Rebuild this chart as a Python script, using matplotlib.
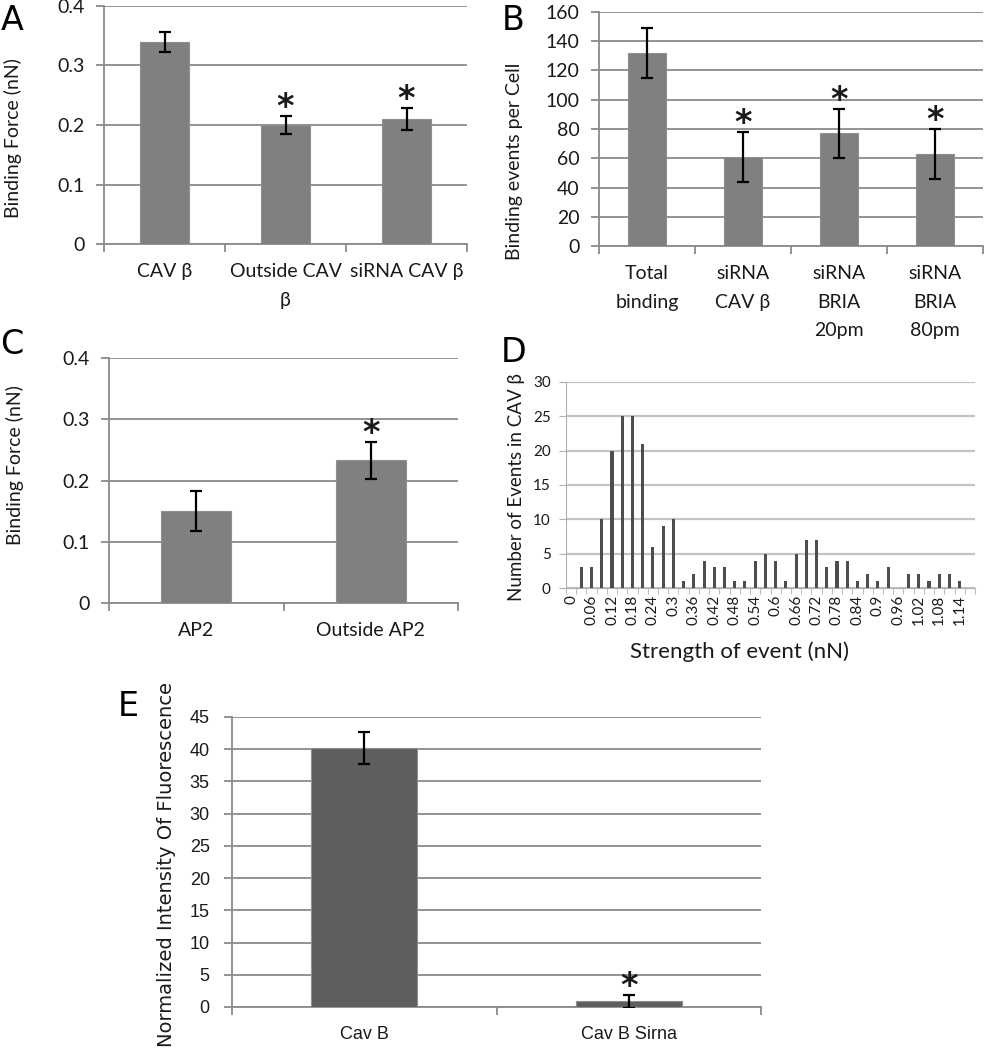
import matplotlib
matplotlib.use('Agg')
import matplotlib.pyplot as plt
import numpy as np

plt.rcParams['font.family'] = ['Lato', 'DejaVu Sans']

# Panel A
a_names = ['CAV β', 'Outside CAV\nβ', 'siRNA CAV β']
a_vals = [0.34, 0.20, 0.21]
a_err = [0.017, 0.015, 0.019]
a_star = [False, True, True]

# Panel B
b_names = ['Total\nbinding', 'siRNA\nCAV β', 'siRNA\nBRIA\n20pm', 'siRNA\nBRIA\n80pm']
b_vals = [132, 61, 77, 63]
b_err = [17, 17, 17, 17]
b_star = [False, True, True, True]

# Panel C
c_names = ['AP2', 'Outside AP2']
c_vals = [0.15, 0.233]
c_err = [0.033, 0.03]
c_star = [False, True]

# Panel D - histogram of event strengths
d_bins = ['0', '0.03', '0.06', '0.09', '0.12', '0.15', '0.18', '0.21', '0.24', '0.27',
          '0.3', '0.33', '0.36', '0.39', '0.42', '0.45', '0.48', '0.51', '0.54', '0.57',
          '0.6', '0.63', '0.66', '0.69', '0.72', '0.75', '0.78', '0.81', '0.84', '0.87',
          '0.9', '0.93', '0.96', '0.99', '1.02', '1.05', '1.08', '1.11', '1.14', '1.17']
d_counts = [0, 3, 3, 10, 20, 25, 25, 21, 6, 9,
            10, 1, 2, 4, 3, 3, 1, 1, 4, 5,
            4, 1, 5, 7, 7, 3, 4, 4, 1, 2,
            1, 3, 0, 2, 2, 1, 2, 2, 1, 0]

# Panel E
e_names = ['Cav B', 'Cav B Sirna']
e_vals = [40.2, 0.9]
e_err = [2.5, 1.0]
e_star = [False, True]

GRID = '#8a8a8a'
TXT = '#1a1a1a'

fig = plt.figure(figsize=(9.84, 10.5), dpi=100)


def bar_panel(rect, names, vals, err, star, ylim, yticks, ylabel, lab_xy,
              color='#808080', fs=14, tickfont=None, ylabfs=14, yfmt=None,
              labfont=None, xpad=14, ypad=8, lsp=1.8):
    ax = fig.add_axes(rect)
    x = np.arange(len(names))
    ax.bar(x, vals, 0.4, color=color, edgecolor='#8f8f8f', linewidth=0.8, zorder=3)
    ax.errorbar(x, vals, yerr=err, fmt='none', ecolor='black', elinewidth=1.6,
                capsize=4, capthick=1.6, zorder=4)
    for i in range(len(names)):
        if star[i]:
            ax.annotate('*', (x[i], vals[i] + err[i]), xytext=(0, -6),
                        textcoords='offset points', ha='center', va='bottom',
                        fontsize=24, fontweight='bold', color=TXT,
                        family=['DejaVu Sans'])
    ax.set_xlim(-0.5, len(names) - 0.5)
    ax.set_ylim(*ylim)
    ax.set_yticks(yticks)
    if yfmt:
        ax.set_yticklabels([yfmt(v) for v in yticks])
    ax.grid(axis='y', color=GRID, linewidth=1.3, zorder=0)
    ax.set_axisbelow(True)
    for s in ['top', 'right']:
        ax.spines[s].set_visible(False)
    ax.spines['left'].set_color(GRID)
    ax.spines['bottom'].set_color(GRID)
    ax.spines['left'].set_linewidth(1.3)
    ax.spines['bottom'].set_linewidth(1.3)
    ax.set_xticks(x, names, fontsize=fs, color=TXT, linespacing=lsp, va='center')
    ax.tick_params(axis='x', which='major', length=0, pad=xpad)
    ax.set_xticks(np.arange(len(names) + 1) - 0.5, minor=True)
    ax.tick_params(axis='x', which='minor', length=6, color=GRID, width=1.3)
    ax.tick_params(axis='y', length=6, color=GRID, width=1.3, labelsize=fs,
                   labelcolor=TXT, pad=ypad)
    for t in ax.get_xticklabels():
        t.set_verticalalignment('top')
    if tickfont:
        for t in ax.get_xticklabels() + ax.get_yticklabels():
            t.set_family(tickfont)
    ax.set_ylabel(ylabel, fontsize=ylabfs, color=TXT)
    ax.yaxis.label.set_va('center')
    if labfont:
        ax.yaxis.label.set_family(labfont)
    ax.yaxis.set_label_coords(*lab_xy)
    return ax


def fmt1(v):
    return '0' if v == 0 else ('%.1f' % v)


bar_panel([0.1057, 0.7676, 0.3689, 0.2267], a_names, a_vals, a_err, a_star,
          (0, 0.4), [0, 0.1, 0.2, 0.3, 0.4], 'Binding Force (nN)', (-0.25, 0.445),
          yfmt=fmt1)
bar_panel([0.6087, 0.7657, 0.3902, 0.2229], b_names, b_vals, b_err, b_star,
          (0, 160), list(range(0, 161, 20)), 'Binding events per Cell', (-0.219, 0.36))
bar_panel([0.1108, 0.4257, 0.3547, 0.2333], c_names, c_vals, c_err, c_star,
          (0, 0.4), [0, 0.1, 0.2, 0.3, 0.4], 'Binding Force (nN)', (-0.269, 0.563),
          yfmt=fmt1)
bar_panel([0.2358, 0.041, 0.5376, 0.2762], e_names, e_vals, e_err, e_star,
          (0, 45), list(range(0, 46, 5)), 'Normalized Intensity Of Fluorescence',
          (-0.123, 0.49), color='#5e5e5e', fs=13,
          tickfont=['Liberation Sans Narrow', 'Liberation Sans'], ylabfs=14,
          labfont=['DejaVu Sans'], ypad=10)

# Panel D
axd = fig.add_axes([0.5752, 0.44, 0.4157, 0.1962])
xd = np.arange(len(d_bins))
axd.bar(xd, d_counts, 0.3, color='#4d4d4d', zorder=3)
axd.set_xlim(-0.5, len(d_bins) - 0.5)
axd.set_ylim(0, 30)
axd.set_yticks(range(0, 31, 5))
axd.grid(axis='y', color='#c4c4c4', linewidth=1.6, zorder=0)
axd.set_axisbelow(True)
for s in ['top', 'right']:
    axd.spines[s].set_visible(False)
axd.spines['left'].set_color('#b0b0b0')
axd.spines['bottom'].set_color('#b0b0b0')
axd.set_xticks(xd[::2], d_bins[::2], rotation=90, fontsize=11, color=TXT)
axd.tick_params(axis='x', which='major', length=0, pad=5)
axd.set_xticks(np.arange(len(d_bins) + 1) - 0.5, minor=True)
axd.tick_params(axis='x', which='minor', length=4, color='#b0b0b0')
axd.tick_params(axis='y', length=5, color='#b0b0b0', labelsize=11, labelcolor=TXT,
                pad=6)
axd.set_ylabel('Number of Events in CAV β', fontsize=13.5, color=TXT)
axd.yaxis.label.set_va('center')
axd.yaxis.set_label_coords(-0.122, 0.49)
axd.set_xlabel('Strength of event (nN)', fontsize=16, color=TXT)
axd.xaxis.label.set_va('center')
axd.xaxis.set_label_coords(0.425, -0.31)

# panel letters
for letter, px, py in [('A', 12, 20), ('B', 513, 20), ('C', 12, 345),
                       ('D', 514, 352), ('E', 128, 706)]:
    fig.text(px / 984, 1 - py / 1050, letter, fontsize=24, ha='center',
             va='center', color='black', family=['DejaVu Sans'])

fig.savefig('out.png', dpi=100)
